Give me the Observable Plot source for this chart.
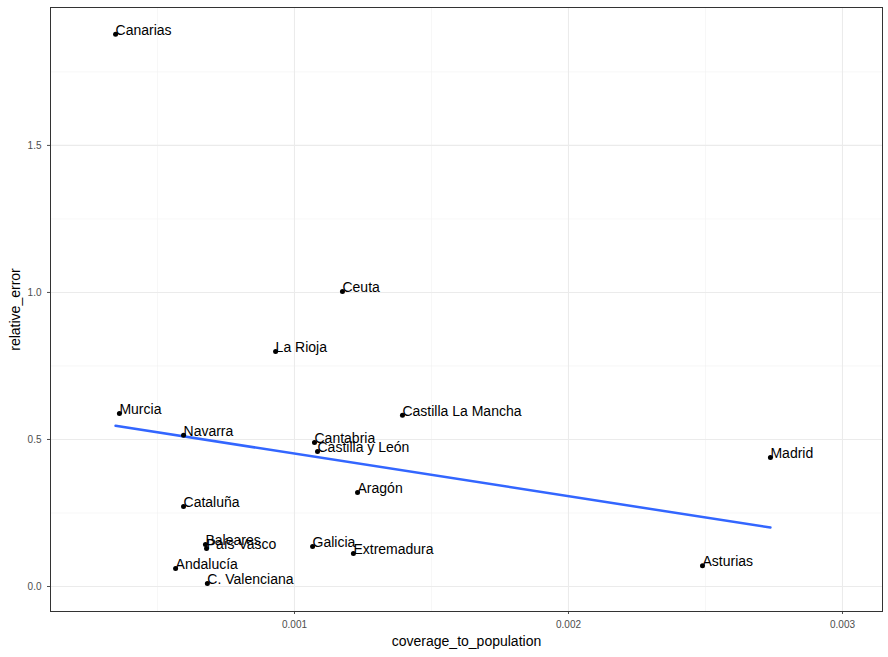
<!DOCTYPE html>
<html>
<head>
<meta charset="utf-8">
<script src="https://cdn.jsdelivr.net/npm/d3@7"></script>
<script src="https://cdn.jsdelivr.net/npm/@observablehq/plot@0.6"></script>
<style>
  body { margin: 0; background: white; }
</style>
</head>
<body>
<div id="chart"></div>
<script>
const regions = ['Canarias', 'Murcia', 'Navarra', 'Cataluña', 'Baleares', 'País Vasco', 'Andalucía',
  'C. Valenciana', 'La Rioja', 'Ceuta', 'Cantabria', 'Castilla y León', 'Galicia', 'Aragón',
  'Extremadura', 'Castilla La Mancha', 'Asturias', 'Madrid']
const coverage = [0.000347, 0.000361, 0.000595, 0.000595, 0.000675, 0.000679, 0.000566,
  0.000682, 0.000931, 0.001175, 0.001073, 0.001084, 0.001066, 0.00123,
  0.001215, 0.001394, 0.002489, 0.002737]
const relError = [1.878, 0.588, 0.514, 0.272, 0.143, 0.129, 0.061,
  0.010, 0.799, 1.003, 0.490, 0.459, 0.136, 0.320,
  0.112, 0.582, 0.071, 0.439]

const data = regions.map((r, i) => ({region: r, x: coverage[i], y: relError[i]}))

const xMajor = [0.001, 0.002, 0.003]
const xMinor = [0.0005, 0.0015, 0.0025]
const yMajor = [0, 0.5, 1.0, 1.5]
const yMinor = [0.25, 0.75, 1.25, 1.75]

let chart = Plot.plot({
  width: 888,
  height: 657,
  marginLeft: 50,
  marginRight: 6,
  marginTop: 7,
  marginBottom: 46,
  x: {
    domain: [0.0001095, 0.003146],
    ticks: xMajor,
    tickFormat: d3.format('.3f'),
    tickSize: 3,
    label: 'coverage_to_population',
    labelAnchor: 'center',
    labelArrow: 'none',
    labelOffset: 34,
  },
  y: {
    domain: [-0.085, 1.969],
    ticks: yMajor,
    tickFormat: d3.format('.1f'),
    tickSize: 3,
    label: 'relative_error',
    labelAnchor: 'center',
    labelArrow: 'none',
    labelOffset: 40,
  },
  style: {
    fontFamily: 'Liberation Sans, sans-serif',
    fontSize: '10px',
    color: '#4d4d4d',
  },
  marks: [
    Plot.ruleX(xMinor, {stroke: '#f2f2f2', strokeWidth: 0.6}),
    Plot.ruleY(yMinor, {stroke: '#f2f2f2', strokeWidth: 0.6}),
    Plot.ruleX(xMajor, {stroke: '#ebebeb', strokeWidth: 1.1}),
    Plot.ruleY(yMajor, {stroke: '#ebebeb', strokeWidth: 1.1}),
    Plot.frame({stroke: '#333333', strokeWidth: 1}),
    Plot.linearRegressionY(data, {x: 'x', y: 'y', stroke: '#3366FF', strokeWidth: 2.5, ci: 0}),
    Plot.dot(data, {x: 'x', y: 'y', r: 2.5, fill: 'black'}),
    Plot.text(data, {x: 'x', y: 'y', text: 'region', textAnchor: 'start', dx: 0, dy: -4,
      fontSize: 14, fill: 'black'}),
  ],
})
d3.select(chart).selectAll('[aria-label="x-axis label"] text, [aria-label="y-axis label"] text')
  .style('font-size', '14px').style('fill', 'black')
d3.select('#chart').append(() => chart)
</script>
</body>
</html>
